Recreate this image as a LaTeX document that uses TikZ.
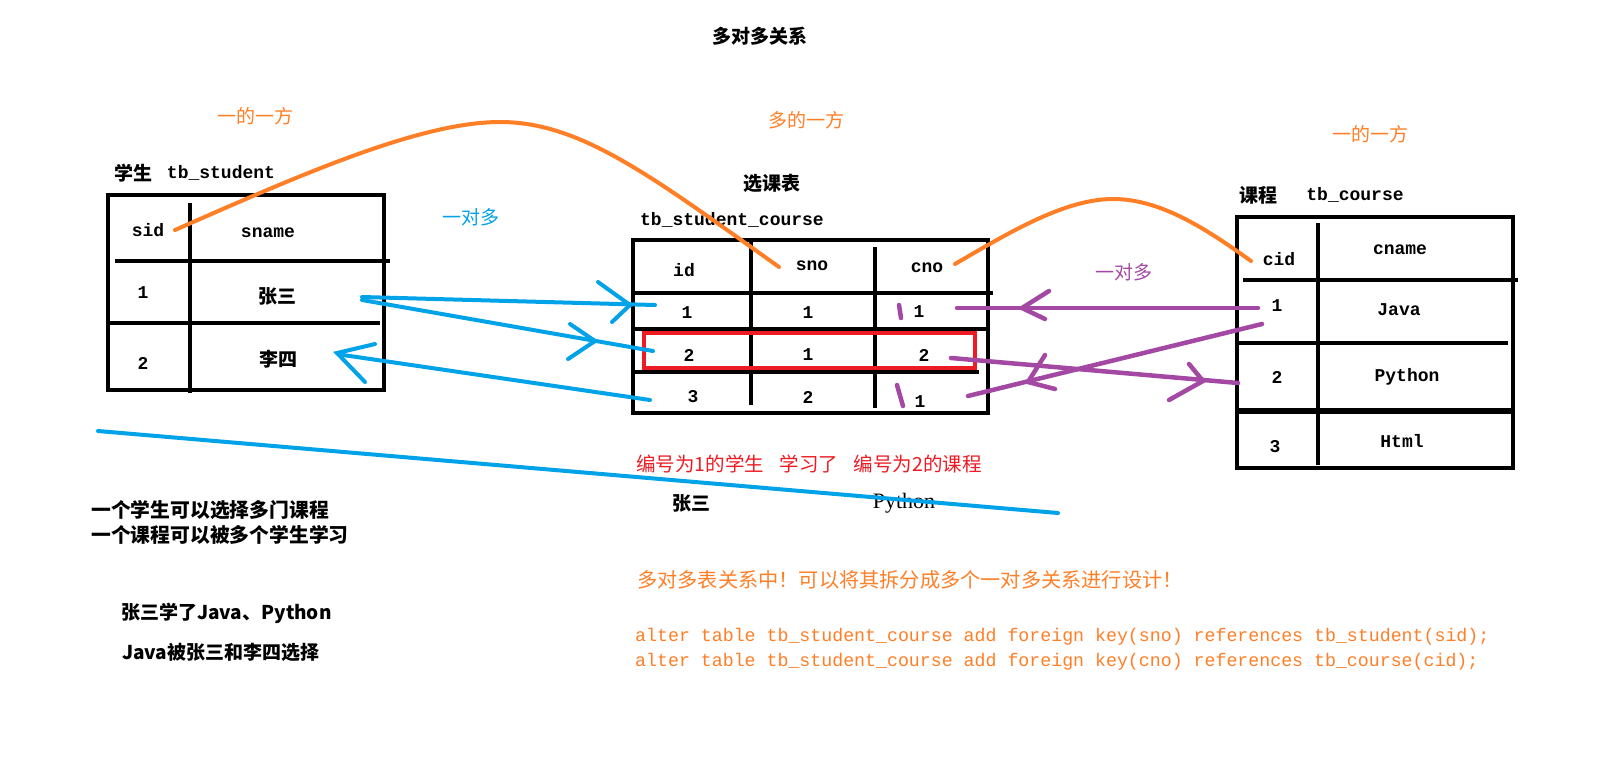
\documentclass[tikz,border=0pt]{standalone}
\usepackage{fontspec}
\newfontfamily\cjk{Noto Sans CJK SC}
\newfontfamily\monof{Liberation Mono}
\newfontfamily\seriff{Liberation Serif}
\definecolor{porange}{RGB}{255,127,39}
\definecolor{pblue}{RGB}{0,162,232}
\definecolor{ppurple}{RGB}{163,73,164}
\definecolor{pred}{RGB}{237,28,36}
\begin{document}
\begin{tikzpicture}[x=1pt,y=-1pt,
  tline/.style={line width=4.5pt},
  oline/.style={draw=porange,line width=4pt,line cap=round},
  bline/.style={draw=pblue,line width=4pt,line cap=round},
  pline/.style={draw=ppurple,line width=4.5pt,line cap=round},
  redbox/.style={draw=pred,line width=4pt},
  cn/.style={inner sep=0pt,font=\cjk\fontsize{19}{19}\selectfont},
  cnb/.style={inner sep=0pt,font=\cjk\bfseries\fontsize{19}{19}\selectfont},
  cnbig/.style={inner sep=0pt,font=\cjk\bfseries\fontsize{19.8}{19.8}\selectfont},
  cno/.style={cn,text=porange},
  mono/.style={inner sep=0pt,font=\monof\bfseries\fontsize{18}{18}\selectfont},
  sql/.style={inner sep=0pt,anchor=west,text=porange,font=\monof\fontsize{18.25}{18.25}\selectfont}]
\fill[white] (0,0) rectangle (1621,766);
\useasboundingbox (0,0) rectangle (1621,766);

% ---- titles ----
\node[cnb] (title) at (760,36) {多对多关系};
\node[cno] (one1) at (255,116) {一的一方};
\node[cno] (many) at (806,120) {多的一方};
\node[cno] (one2) at (1370,134) {一的一方};
\node[cnb] (st1) at (133,173) {学生};
\node[mono] (st2) at (221,173) {tb\_student};
\node[cnb] (mt0) at (772,183) {选课表};
\node[mono] (mt1) at (732,220) {tb\_student\_course};
\node[cnb] (ct1) at (1258,195) {课程};
\node[mono] (ct2) at (1355,195) {tb\_course};
\node[cn,text=pblue] (bl) at (471,217) {一对多};
\node[cn,text=ppurple] (pl) at (1124,272) {一对多};

% ---- student table ----
\draw[tline] (108,195) rectangle (384,390);
\draw[tline] (190,203) -- (190,393);
\draw[tline] (115,261) -- (390,261);
\draw[tline] (108,323) -- (380,323);
\node[mono] (sid) at (148,230) {sid};
\node[mono] (sname) at (268,233) {sname};
\node[mono] (s1) at (143,293) {1};
\node[cnb] (zs) at (277,296) {张三};
\node[mono] (s2) at (143,363) {2};
\node[cnb] (ls) at (278,359) {李四};

% ---- student_course table ----
\draw[tline] (633,240) rectangle (988,413);
\draw[tline] (751,240) -- (751,405);
\draw[tline] (875,247) -- (875,408);
\draw[tline] (633,293) -- (993,293);
\draw[tline] (632,329) -- (988,329);
\draw[tline] (633,372) -- (979,372);
\draw[redbox] (644,333) rectangle (975,368);
\node[mono] (hid) at (684,270) {id};
\node[mono] (hsno) at (812,266) {sno};
\node[mono] (hcno) at (927,268) {cno};
\node[mono] (r1a) at (687,313) {1};
\node[mono] (r1b) at (808,313) {1};
\node[mono] (r1c) at (919,312) {1};
\node[mono] (r2a) at (689,355) {2};
\node[mono] (r2b) at (808,355) {1};
\node[mono] (r2c) at (924,355) {2};
\node[mono] (r3a) at (693,397) {3};
\node[mono] (r3b) at (808,397) {2};
\node[mono] (r3c) at (920,402) {1};

% ---- course table ----
\draw[tline] (1237,217) rectangle (1513,468);
\draw[tline] (1318,223) -- (1318,465);
\draw[tline] (1243,280) -- (1518,280);
\draw[tline] (1237,343) -- (1508,343);
\draw[line width=6pt] (1237,411) -- (1513,411);
\node[mono] (cid) at (1279,259) {cid};
\node[mono] (cname) at (1400,250) {cname};
\node[mono] (c1) at (1277,306) {1};
\node[mono] (java) at (1399,310) {Java};
\node[mono] (c2) at (1277,377) {2};
\node[mono] (python) at (1407,377) {Python};
\node[mono] (c3) at (1275,447) {3};
\node[mono] (html) at (1402,441) {Html};

% ---- connector end points ----
\coordinate (o1a) at (175,230);
\coordinate (o1p) at (500,122);
\coordinate (o1b) at (779,267);
\coordinate (o2a) at (955,264);
\coordinate (o2p) at (1113,199);
\coordinate (o2b) at (1251,261);
\coordinate (b1a) at (362,297);
\coordinate (b1b) at (655,305);
\coordinate (b1t) at (630,305);
\coordinate (b2a) at (362,300);
\coordinate (b2b) at (653,351);
\coordinate (b2t) at (595,341);
\coordinate (b3a) at (650,400);
\coordinate (b3b) at (343,355);
\coordinate (b3t) at (337,353);
\coordinate (pAa) at (1258,308);
\coordinate (pAb) at (957,308);
\coordinate (pAt) at (1022,308);
\coordinate (pBa) at (1262,324);
\coordinate (pBb) at (968,396);
\coordinate (pBt) at (1028,382);
\coordinate (pCa) at (951,358);
\coordinate (pCb) at (1238,383);
\coordinate (pCt) at (1203,381);
\coordinate (bla) at (98,431);
\coordinate (blb) at (1058,513);

% ---- orange curves ----
\draw[oline] (o1a) .. controls (300,175) and (420,122) .. (o1p)
                   .. controls (580,122) and (650,175) .. (o1b);
\draw[oline] (o2a) .. controls (1010,232) and (1065,199) .. (o2p)
                   .. controls (1160,199) and (1205,228) .. (o2b);

% ---- blue arrows ----
\draw[bline] (b1a) -- (b1b);
\draw[bline] (598,282) -- (b1t) -- (612,322);
\draw[bline] (b2a) -- (b2b);
\draw[bline] (570,324) -- (b2t) -- (568,359);
\draw[bline] (b3a) -- (b3b);
\draw[bline] (375,344) -- (b3t) -- (365,382);

% ---- purple arrows ----
\draw[pline] (pAa) -- (pAb);
\draw[pline] (1049,291) -- (pAt) -- (1045,319);
\draw[pline] (pBa) -- (pBb);
\draw[pline] (1045,355) -- (pBt) -- (1055,389);
\draw[pline] (pCa) -- (pCb);
\draw[pline] (1189,364) -- (pCt) -- (1169,400);
\draw[pline] (899,305) -- (901,318);
\draw[pline] (897,385) -- (903,406);

% ---- lower texts ----
\node[inner sep=0pt,text=pred,anchor=west,font=\cjk\fontsize{19.5}{19.5}\selectfont] (note) at (636,464) {编号为1的学生\hspace{0.8em}学习了\hspace{0.8em}编号为2的课程};
\node[cnb] (nzs) at (691,503) {张三};
\node[inner sep=0pt,font=\seriff\fontsize{22}{22}\selectfont] (npy) at (904,503) {Python};
\draw[bline] (bla) -- (blb);

\node[cnbig,anchor=west] (t1) at (91,510) {一个学生可以选择多门课程};
\node[cnbig,anchor=west] (t2) at (91,535) {一个课程可以被多个学生学习};
\node[cnb,anchor=west] (t3) at (121,613) {张三学了Java、Python};
\node[cnb,anchor=west] (t4) at (122,652) {Java被张三和李四选择};

\node[inner sep=0pt,anchor=west,text=porange,font=\cjk\fontsize{20.2}{20.2}\selectfont] (t5) at (637,580) {多对多表关系中！可以将其拆分成多个一对多关系进行设计！};
\node[sql] (q1) at (635,637) {alter table tb\_student\_course add foreign key(sno) references tb\_student(sid);};
\node[sql] (q2) at (635,662) {alter table tb\_student\_course add foreign key(cno) references tb\_course(cid);};
\end{tikzpicture}
\end{document}
